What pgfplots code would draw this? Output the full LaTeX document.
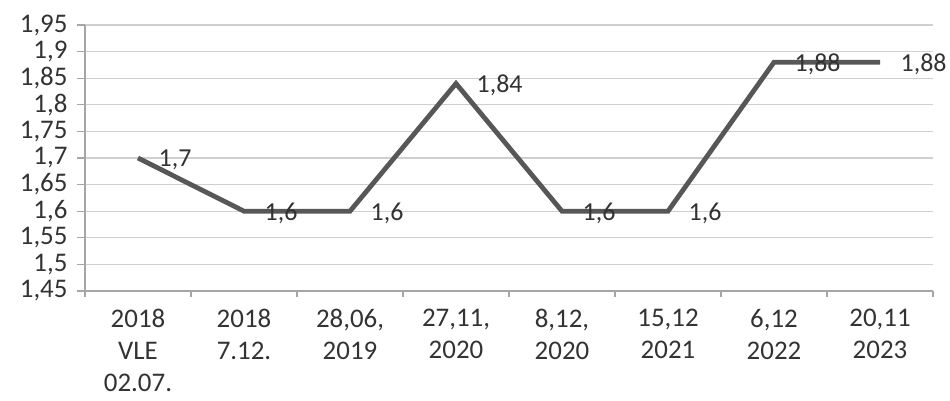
\documentclass[border=0pt]{standalone}
\usepackage{pgfplots}
\pgfplotsset{compat=1.18}
\usepackage{fontspec}
\setmainfont{Carlito}
\definecolor{linegray}{HTML}{575757}
\definecolor{gridgray}{HTML}{CFCFCF}
\definecolor{axisgray}{HTML}{A6A6A6}
\definecolor{txt}{HTML}{333333}
\begin{document}
\begin{tikzpicture}
\begin{axis}[
  scale only axis,
  width=848bp, height=266bp,
  xmin=-0.5, xmax=7.5,
  ymin=1.45, ymax=1.95,
  ytick={1.45,1.5,1.55,1.6,1.65,1.7,1.75,1.8,1.85,1.9,1.95},
  xtick={0,1,2,3,4,5,6,7},
  xticklabels={{2018\\VLE\\02.07.},{2018\\7.12.},{28,06,\\2019},{27,11,\\2020},{8,12,\\2020},{15,12\\2021},{6,12\\2022},{20,11\\2023}},
  minor xtick={-0.5,0.5,1.5,2.5,3.5,4.5,5.5,6.5,7.5},
  axis x line*=bottom, axis y line*=left,
  axis line style={axisgray, line width=1.2bp, -},
  ymajorgrids, major grid style={gridgray, line width=1.3bp},
  tick style={axisgray, line width=1.2bp},
  major x tick style={draw=none},
  minor tick length=6bp,
  major tick length=8bp,
  tick align=outside,
  /pgf/number format/.cd, use comma, assume math mode=true,
  /pgfplots/.cd,
  ticklabel style={font=\fontsize{27}{32}\selectfont, text=txt},
  xticklabel style={align=center, yshift=-7bp},
  yticklabel style={xshift=-6bp},
  clip=false,
  nodes near coords,
  every node near coord/.append style={font=\fontsize{26}{31}\selectfont, text=txt, anchor=west, xshift=15bp, yshift=-2bp},
]
\addplot[linegray, line width=4.8bp, mark=none] coordinates {
(0,1.7) (1,1.6) (2,1.6) (3,1.84) (4,1.6) (5,1.6) (6,1.88) (7,1.88)
};
\end{axis}
\path (current axis.south west) ++(-85bp,-110bp);
\path (current axis.north east) ++(17bp,25bp);
\end{tikzpicture}
\end{document}
